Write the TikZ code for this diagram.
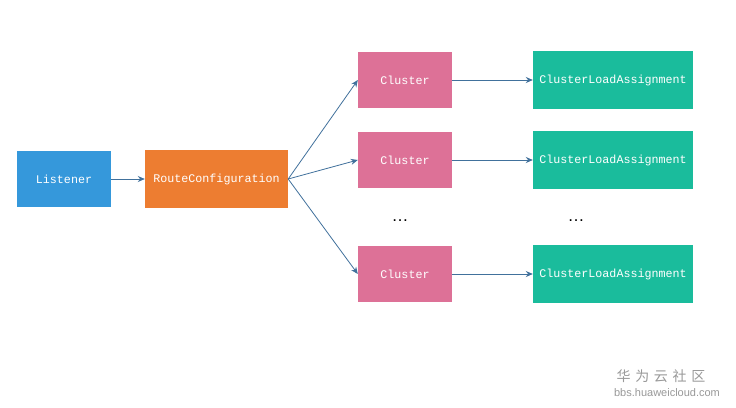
\documentclass[tikz,border=0pt]{standalone}
\usepackage{fontspec}
\usetikzlibrary{arrows.meta}
\setmonofont{Liberation Mono}
\newfontfamily\cjk{Noto Sans CJK SC}
\newfontfamily\wmfont{Liberation Sans}
\definecolor{lsblue}{HTML}{3598DB}
\definecolor{rcorange}{HTML}{ED7D31}
\definecolor{clpink}{HTML}{DD7197}
\definecolor{clateal}{HTML}{1ABC9C}
\definecolor{arrowblue}{HTML}{41719C}
\tikzset{>={Stealth[length=7pt,width=6pt]},
  box/.style={draw=none, text=white, font=\ttfamily\fontsize{11.7}{12}\selectfont,
    inner sep=0pt, minimum height=56pt},
  link/.style={->, arrowblue, line width=0.8pt},
  dots/.style={font=\wmfont\fontsize{17}{17}\selectfont}}

\begin{document}
\begin{tikzpicture}[x=1pt, y=-1pt]
\useasboundingbox[fill=white] (0,0) rectangle (736,407);
\node[box, fill=lsblue, minimum width=94pt] (lst) at (64,179) {Listener};
\node[box, fill=rcorange, minimum width=143pt, minimum height=58pt] (rc) at (216.5,179) {RouteConfiguration};
\node[box, fill=clpink, minimum width=94pt] (c1) at (405,80) {Cluster};
\node[box, fill=clpink, minimum width=94pt] (c2) at (405,160) {Cluster};
\node[box, fill=clpink, minimum width=94pt] (c3) at (405,274) {Cluster};
\node[box, fill=clateal, minimum width=160pt, minimum height=58pt] (a1) at (613,80) {ClusterLoadAssignment};
\node[box, fill=clateal, minimum width=160pt, minimum height=58pt] (a2) at (613,160) {ClusterLoadAssignment};
\node[box, fill=clateal, minimum width=160pt, minimum height=58pt] (a3) at (613,274) {ClusterLoadAssignment};
\node[dots] (d1) at (400,221) {…};
\node[dots] (d2) at (576,221) {…};
\draw[link] (lst) -- (rc);
\draw[link] (rc.east) -- (c1.west);
\draw[link] (rc.east) -- (c2.west);
\draw[link] (rc.east) -- (c3.west);
\draw[link] (c1) -- (a1);
\draw[link] (c2) -- (a2);
\draw[link] (c3) -- (a3);
% watermark
\node[text=black!40, font=\cjk\fontsize{14}{14}\selectfont] (wm) at (661,376) {华\,\,为\,\,云\,\,社\,\,区};
\node[text=black!40, font=\wmfont\fontsize{11}{11}\selectfont] (wmurl) at (667,393) {bbs.huaweicloud.com};
\end{tikzpicture}
\end{document}
